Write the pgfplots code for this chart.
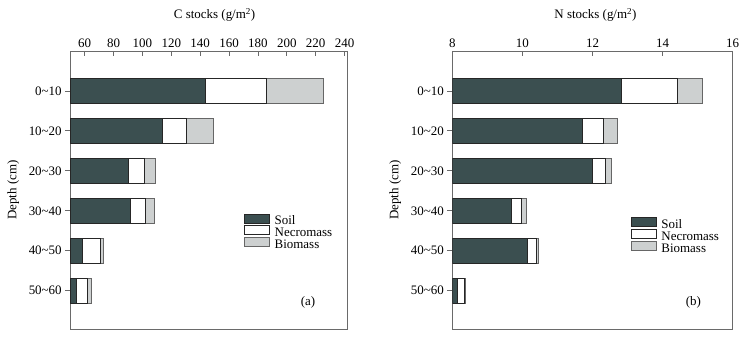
\documentclass[border=0pt]{standalone}
\usepackage{pgfplots}
\pgfplotsset{compat=1.18}
\usepackage{fontspec}
\setmainfont{Liberation Serif}

\definecolor{soil}{HTML}{3B4F50}
\definecolor{bio}{HTML}{CDD0D0}
\definecolor{axgray}{HTML}{6A6A6A}

\pgfplotsset{
  common/.style={
    scale only axis, height=278bp,
    xbar stacked, bar width=25bp,
    ymin=-0.96, ymax=6.0,
    ytick={0,1,2,3,4,5},
    yticklabels={50\textasciitilde60,40\textasciitilde50,30\textasciitilde40,20\textasciitilde30,10\textasciitilde20,0\textasciitilde10},
    xtick pos=right, xticklabel pos=right, ytick pos=left,
    tick align=inside, major tick length=5bp,
    axis line style={axgray, line width=0.9bp},
    every tick/.style={axgray, line width=0.8bp},
    ytick style={xshift=-5bp},
    yticklabel style={xshift=-5bp},
    /pgf/number format/assume math mode=true,
    tick label style={font=\fontsize{13}{15}\selectfont},
    label style={font=\fontsize{13}{15}\selectfont},
    xlabel style={at={(rel axis cs:0.5,1)}, anchor=center, yshift=36bp},
    every axis y label/.style={at={(rel axis cs:0,0.5)}, xshift=-57bp, rotate=90, anchor=center, font=\fontsize{13}{15}\selectfont},
    ylabel={Depth (cm)},
    legend cell align=left,
    legend style={draw=none, fill=none, anchor=north west, inner sep=0pt,
      row sep=-2.5bp, column sep=4bp,
      font=\fontsize{13}{15}\selectfont,
      nodes={text height=8bp, text depth=2bp, inner sep=1bp}},
  },
  mleg/.style={legend image code/.code={\draw[##1] (0bp,-1bp) rectangle (25bp,8bp);}},
}

\begin{document}
\begin{tikzpicture}
\useasboundingbox (0,0) rectangle (749bp,340bp);
\begin{axis}[common, at={(70.2bp,11bp)}, anchor=south west, width=276.8bp,
  xmin=50, xmax=241.7, xtick={60,80,...,240},
  xlabel={C stocks (g/m\textsuperscript{2})},
  xlabel style={xshift=6bp},
  legend style={at={(rel axis cs:0.6275,0.416)}}]
\addplot[mleg, fill=soil, draw=black!85, line width=0.6bp] coordinates
  {(54.0,0) (58.7,1) (91.4,2) (90.5,3) (113.8,4) (143.3,5)};
\addplot[mleg, fill=white, draw=black!85, line width=0.6bp] coordinates
  {(8.1,0) (11.9,1) (10.6,2) (11.1,3) (16.4,4) (42.7,5)};
\addplot[mleg, fill=bio, draw=black!60, line width=0.6bp] coordinates
  {(2.3,0) (2.3,1) (6.2,2) (7.1,3) (19.2,4) (39.3,5)};
\legend{Soil,Necromass,Biomass}
\node[font=\fontsize{13}{15}\selectfont] at (axis cs:214.7,-0.29) {(a)};
\end{axis}
\begin{axis}[common, at={(452.3bp,11bp)}, anchor=south west, width=280.4bp,
  xmin=8, xmax=16, xtick={8,10,...,16},
  xlabel={N stocks (g/m\textsuperscript{2})},
  xlabel style={xshift=3bp},
  legend style={at={(rel axis cs:0.636,0.402)}}]
\addplot[mleg, fill=soil, draw=black!85, line width=0.6bp] coordinates
  {(8.13,0) (10.13,1) (9.68,2) (12.00,3) (11.71,4) (12.83,5)};
\addplot[mleg, fill=white, draw=black!85, line width=0.6bp] coordinates
  {(0.21,0) (0.27,1) (0.30,2) (0.37,3) (0.60,4) (1.59,5)};
\addplot[mleg, fill=bio, draw=black!60, line width=0.6bp] coordinates
  {(0.04,0) (0.05,1) (0.14,2) (0.18,3) (0.41,4) (0.72,5)};
\legend{Soil,Necromass,Biomass}
\node[font=\fontsize{13}{15}\selectfont] at (axis cs:14.88,-0.29) {(b)};
\end{axis}
\end{tikzpicture}
\end{document}
